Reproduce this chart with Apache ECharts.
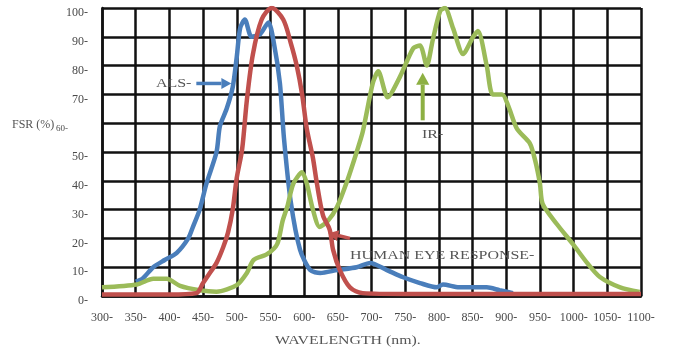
<!DOCTYPE html>
<html>
<head>
<meta charset="utf-8">
<script src="https://cdn.jsdelivr.net/npm/echarts@6/dist/echarts.min.js"></script>
<style>
html,body{margin:0;padding:0;background:#fff;}
#c{width:676px;height:353px;}
</style>
</head>
<body>
<div id="c"></div>
<script>
// ---- data ----
const xTicks = [300,350,400,450,500,550,600,650,700,750,800,850,900,950,1000,1050,1100];
const yTicks = [0,10,20,30,40,50,60,70,80,90,100];

const alsX = [350,360,376,393,411,428,435,445,455,470,475,485,494,500,505,512,522,535,547,555,564,570,580,594,609,624,649,678,698,723,747,772,797,806,830,871,890,910];
const alsY = [5,6,10,12.5,15,20,24,30,39,50,59,65,72.5,83,93,96,90,91,95,88,74,55,33,16,9,8,9,10,11.5,9,6.5,4.5,3,4,3,3,2,1];

const eyeX = [300,350,400,440,450,460,470,480,487,494,500,508,515,524,537,552,569,580,589,597,604,613,619,628,638,643,653,668,687,750,800,900,1000,1100];
const eyeY = [0.5,0.5,0.5,1,4.5,8,11.5,17,22,30,41,51,68,84,96,100,96,88,80,70,58,48,39,28,23,16,9,3,1,0.7,0.7,0.7,0.7,0.7];

const irX = [300,352,376,396,416,445,470,500,515,525,545,560,568,575,584,597,604,613,623,635,649,664,678,687,702,710,724,742,762,772,782,791,802,809,821,836,851,858,871,880,894,903,916,935,943,950,954,975,999,1020,1039,1069,1098];
const irY = [3,4,6,6,3.5,2,1.5,3.8,8,12.5,14.5,18,26,31,39,43,39,30,24,26,31,40,50,57,74,78,69,76,86,87,80,89,99,100,93,84,90,92,80,70,70,66,58,53,47,39,32,25,18,11.5,6.6,3,1.4];

// annotations in data coordinates
const alsLabel = {text:'ALS-', x:380, y:73.5};
const alsArrow = [[440,73.8],[492,73.8]];
const irLabel = {text:'IR-', x:775, y:56};
const irArrow = [[776,61],[776,77.5]];
const eyeLabel = {text:'HUMAN EYE RESPONSE-', x:668, y:14};
const eyeArrow = [[668,20],[636,21.8]];

const pairs = (xs, ys) => xs.map((x,i)=>[x, ys[i]]);
const FONT = 'Liberation Serif';
const TXT = '#4a4a4a';

const chart = echarts.init(document.getElementById('c'));
chart.setOption({
  animation:false,
  backgroundColor:'#fff',
  grid:{left:102, right:35, top:8, bottom:57},
  xAxis:{
    type:'value', min:300, max:1100, interval:50,
    axisLine:{show:true, lineStyle:{color:'#111', width:2.5}},
    axisTick:{show:false},
    splitLine:{show:true, lineStyle:{color:'#111', width:2.5}},
    axisLabel:{fontFamily:FONT, fontSize:12, color:TXT, margin:16,
      formatter:v=> xTicks.includes(v) ? v + '-' : ''}
  },
  yAxis:{
    type:'value', min:0, max:100, interval:10,
    axisLine:{show:true, lineStyle:{color:'#111', width:2.5}},
    axisTick:{show:false},
    splitLine:{show:true, lineStyle:{color:'#111', width:2.5}},
    axisLabel:{fontFamily:FONT, fontSize:12, color:TXT, margin:14,
      padding:[10,0,0,0],
      formatter:v=> yTicks.includes(v) ? (v===60 ? '{s|60-}' : v + '-') : '',
      rich:{s:{fontFamily:FONT, fontSize:9, color:TXT, padding:[0,20,0,0]}}}
  },
  series:[
    {type:'line', name:'ALS', data:pairs(alsX, alsY), showSymbol:false, smooth:0.25,
     lineStyle:{color:'#4A7EBB', width:4.5}, z:2},
    {type:'line', name:'IR', data:pairs(irX, irY), showSymbol:false, smooth:0.25,
     lineStyle:{color:'#9BBB59', width:4.5}, z:3},
    {type:'line', name:'HUMAN EYE RESPONSE', data:pairs(eyeX, eyeY), showSymbol:false, smooth:0.3,
     lineStyle:{color:'#C0504D', width:4.5}, z:4}
  ]
});

function px(p){ return chart.convertToPixel({gridIndex:0}, p); }
function arrow(a, b, color, w, head){
  const p0 = px(a), p1 = px(b);
  const dx = p1[0]-p0[0], dy = p1[1]-p0[1];
  const L = Math.hypot(dx,dy), ux = dx/L, uy = dy/L;
  const bx = p1[0]-ux*head, by = p1[1]-uy*head;
  const nx = -uy*head*0.55, ny = ux*head*0.55;
  return [
    {type:'line', shape:{x1:p0[0], y1:p0[1], x2:bx, y2:by}, style:{stroke:color, lineWidth:w}, z:10},
    {type:'polygon', shape:{points:[[p1[0],p1[1]],[bx+nx,by+ny],[bx-nx,by-ny]]}, style:{fill:color}, z:10}
  ];
}
function label(l){
  const p = px([l.x, l.y]);
  return {type:'text', x:p[0], y:p[1], scaleX:1.33, z:10,
    style:{text:l.text, fontFamily:FONT, fontSize:12, fill:'#555', align:'left', verticalAlign:'middle'}};
}
const g = [];
g.push(label(alsLabel));
g.push(...arrow(alsArrow[0], alsArrow[1], '#4A7EBB', 3.5, 10));
g.push(label(irLabel));
g.push(...arrow(irArrow[0], irArrow[1], '#8DB043', 4, 12));
g.push(label(eyeLabel));
g.push(...arrow(eyeArrow[0], eyeArrow[1], '#C0504D', 3.5, 10));
g.push({type:'text', x:12, y:125, z:10,
  style:{text:'FSR (%)', fontFamily:FONT, fontSize:12, fill:'#555', verticalAlign:'middle'}});
g.push({type:'text', x:275, y:341, scaleX:1.32, z:10,
  style:{text:'WAVELENGTH (nm).', fontFamily:FONT, fontSize:12, fill:'#555', verticalAlign:'middle'}});
chart.setOption({graphic:g});
</script>
</body>
</html>
